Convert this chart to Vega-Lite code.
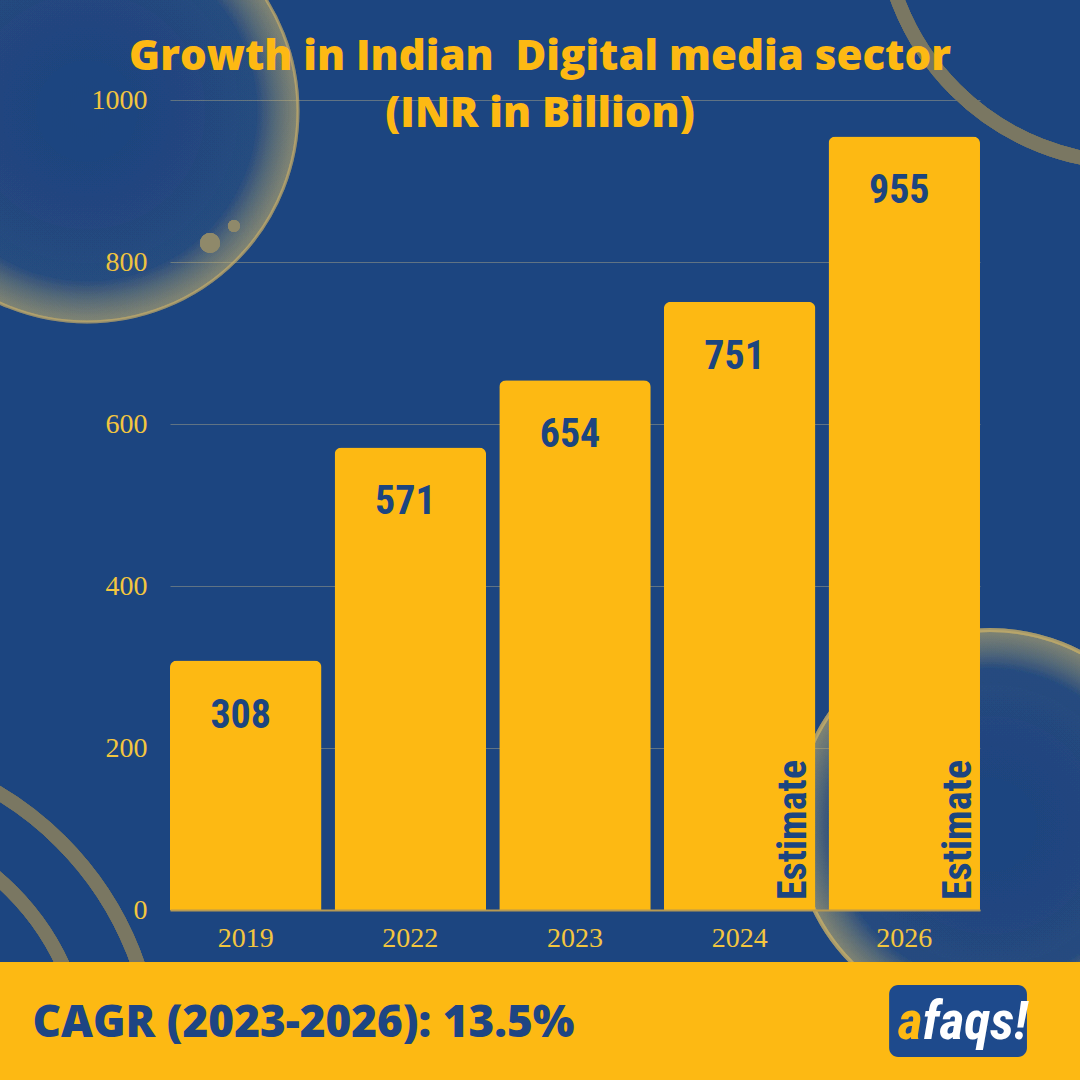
{
  "$schema": "https://vega.github.io/schema/vega-lite/v6.json",
  "width": 1080,
  "height": 1080,
  "autosize": {"type": "none"},
  "padding": 0,
  "background": "#1c4580",
  "view": {"stroke": null},
  "title": {
    "text": ["Growth in Indian \u00a0Digital media sector", "(INR in Billion)"],
    "font": "Open Sans",
    "fontSize": 42,
    "fontWeight": 800,
    "color": "#fdb913",
    "anchor": "middle",
    "frame": "group",
    "orient": "top",
    "offset": -136,
    "lineHeight": 57
  },
  "data": {
    "values": [
      {"year": "2019", "value": 308},
      {"year": "2022", "value": 571},
      {"year": "2023", "value": 654},
      {"year": "2024", "value": 751, "note": "Estimate"},
      {"year": "2026", "value": 955, "note": "Estimate"}
    ]
  },
  "layer": [
    {
      "mark": {"type": "bar", "color": "#fdb913", "opacity": 0, "clip": true},
      "encoding": {
        "x": {
          "field": "year", "type": "nominal", "sort": null,
          "scale": {"range": [170, 980], "paddingInner": 0.08, "paddingOuter": 0},
          "axis": {
            "orient": "bottom", "offset": -170, "ticks": false, "grid": false, "bandPosition": 0.5,
            "domainColor": "#b89a52", "domainWidth": 2,
            "labelPadding": 14, "labelFont": "Liberation Serif", "labelFontSize": 28,
            "labelColor": "#f3c63f", "labelAngle": 0, "labelAlign": "center", "labelBaseline": "top",
            "title": "CAGR (2023-2026): 13.5%",
            "titleFont": "Open Sans", "titleFontSize": 44, "titleFontWeight": 800,
            "titleColor": "#1e4583", "titleX": 32, "titleY": 126,
            "titleAlign": "left", "titleAnchor": "start", "titleBaseline": "alphabetic",
            "zindex": 1
          }
        },
        "y": {
          "field": "value", "type": "quantitative",
          "scale": {"domain": [0, 1000], "range": [910, 100], "nice": false},
          "axis": {
            "values": [0, 200, 400, 600, 800, 1000], "format": "d", "grid": true,
            "offset": -170, "domain": false, "ticks": false, "labelPadding": 23,
            "labelFont": "Liberation Serif", "labelFontSize": 28, "labelColor": "#f3c63f",
            "gridColor": "#c9b98a", "gridOpacity": 0.4, "gridWidth": 1, "title": null
          }
        }
      }
    },
    {
      "mark": {"type": "point", "shape": "circle", "filled": false, "clip": true, "stroke": "#c9b06a", "strokeOpacity": 0.3, "strokeWidth": 3,
        "fill": {"gradient": "radial", "x1": 0.5, "y1": 0.5, "r1": 0, "x2": 0.5, "y2": 0.5, "r2": 0.5,
          "stops": [{"offset": 0, "color": "rgba(200,180,110,0)"}, {"offset": 0.8, "color": "rgba(200,180,110,0.02)"}, {"offset": 1, "color": "rgba(210,185,110,0.22)"}]},
        "size": 178084},
      "encoding": {
        "x": {"datum": "2019", "type": "nominal", "bandPosition": -0.548},
        "y": {"datum": 986.4, "type": "quantitative"}
      }
    },
    {
      "mark": {"type": "point", "shape": "circle", "filled": true, "clip": true, "color": "#8f8a6a", "opacity": 0.9, "size": 400},
      "encoding": {
        "x": {"datum": "2019", "type": "nominal", "bandPosition": 0.264},
        "y": {"datum": 823.5, "type": "quantitative"}
      }
    },
    {
      "mark": {"type": "point", "shape": "circle", "filled": true, "clip": true, "color": "#8f8a6a", "opacity": 0.9, "size": 144},
      "encoding": {
        "x": {"datum": "2019", "type": "nominal", "bandPosition": 0.422},
        "y": {"datum": 844.4, "type": "quantitative"}
      }
    },
    {
      "mark": {"type": "point", "shape": "circle", "filled": false, "clip": true, "stroke": "#7b7862", "strokeOpacity": 1, "strokeWidth": 14, "size": 252004},
      "encoding": {
        "x": {"datum": "2019", "type": "nominal", "bandPosition": 6.356},
        "y": {"datum": 1232.1, "type": "quantitative"}
      }
    },
    {
      "mark": {"type": "point", "shape": "circle", "filled": false, "clip": true, "stroke": "#7b7862", "strokeOpacity": 1, "strokeWidth": 14, "size": 419904},
      "encoding": {
        "x": {"datum": "2019", "type": "nominal", "bandPosition": -2.231},
        "y": {"datum": -198.8, "type": "quantitative"}
      }
    },
    {
      "mark": {"type": "point", "shape": "circle", "filled": false, "clip": true, "stroke": "#7b7862", "strokeOpacity": 1, "strokeWidth": 14, "size": 258064},
      "encoding": {
        "x": {"datum": "2019", "type": "nominal", "bandPosition": -2.231},
        "y": {"datum": -198.8, "type": "quantitative"}
      }
    },
    {
      "mark": {"type": "point", "shape": "circle", "filled": false, "clip": true, "stroke": "#c9b06a", "strokeOpacity": 0.4, "strokeWidth": 4,
        "fill": {"gradient": "radial", "x1": 0.5, "y1": 0.5, "r1": 0, "x2": 0.5, "y2": 0.5, "r2": 0.5,
          "stops": [{"offset": 0, "color": "rgba(200,180,110,0)"}, {"offset": 0.8, "color": "rgba(200,180,110,0.02)"}, {"offset": 1, "color": "rgba(210,185,110,0.22)"}]},
        "size": 152100},
      "encoding": {
        "x": {"datum": "2019", "type": "nominal", "bandPosition": 5.413},
        "y": {"datum": 104.9, "type": "quantitative"}
      }
    },
    {
      "mark": {"type": "rect", "color": "#fdb913", "clip": true},
      "encoding": {
        "y": {"datum": -64.5, "type": "quantitative"},
        "y2": {"datum": -240}
      }
    },
    {
      "mark": {"type": "bar", "color": "#fdb913", "cornerRadiusTopLeft": 7, "cornerRadiusTopRight": 7},
      "encoding": {
        "x": {"field": "year", "type": "nominal", "sort": null},
        "y": {"field": "value", "type": "quantitative"}
      }
    },
    {
      "mark": {"type": "text", "font": "Liberation Sans Narrow, Roboto Condensed, DejaVu Sans Condensed, Roboto", "fontSize": 40, "fontWeight": "bold", "color": "#1c4580", "baseline": "alphabetic", "dy": 67, "dx": -5},
      "encoding": {
        "x": {"field": "year", "type": "nominal", "sort": null},
        "y": {"field": "value", "type": "quantitative"},
        "text": {"field": "value"}
      }
    },
    {
      "transform": [{"filter": "datum.note != null"}],
      "mark": {"type": "text", "angle": 270, "align": "left", "baseline": "middle", "font": "Liberation Sans Narrow, Roboto Condensed, DejaVu Sans Condensed, Roboto", "fontSize": 40, "fontWeight": "bold", "color": "#1c4580"},
      "encoding": {
        "x": {"field": "year", "type": "nominal", "sort": null, "bandPosition": 0.86},
        "y": {"datum": 12.3, "type": "quantitative"},
        "text": {"field": "note"}
      }
    },
    {
      "data": {"values": [{"logo": "afaqs!"}]},
      "mark": {"type": "rect", "color": "#1e4a8c", "cornerRadius": 9},
      "encoding": {
        "x": {"datum": "2026", "type": "nominal", "bandPosition": 0.4},
        "x2": {"datum": "2026", "bandPosition": 1.31},
        "y": {"datum": -92.6, "type": "quantitative"},
        "y2": {"datum": -181.5}
      }
    },
    {
      "data": {"values": [{"logo": "a"}]},
      "mark": {"type": "text", "font": "Liberation Sans Narrow, Roboto Condensed, DejaVu Sans Condensed, Roboto", "fontSize": 54, "fontWeight": "bold", "fontStyle": "italic", "color": "#fdb913", "baseline": "middle", "align": "right"},
      "encoding": {
        "x": {"datum": "2026", "type": "nominal", "bandPosition": 0.62},
        "y": {"datum": -139, "type": "quantitative"},
        "text": {"field": "logo"}
      }
    },
    {
      "data": {"values": [{"logo": "faqs!"}]},
      "mark": {"type": "text", "font": "Liberation Sans Narrow, Roboto Condensed, DejaVu Sans Condensed, Roboto", "fontSize": 54, "fontWeight": "bold", "fontStyle": "italic", "color": "#ffffff", "baseline": "middle", "align": "left"},
      "encoding": {
        "x": {"datum": "2026", "type": "nominal", "bandPosition": 0.62},
        "y": {"datum": -139, "type": "quantitative"},
        "text": {"field": "logo"}
      }
    }
  ]
}
